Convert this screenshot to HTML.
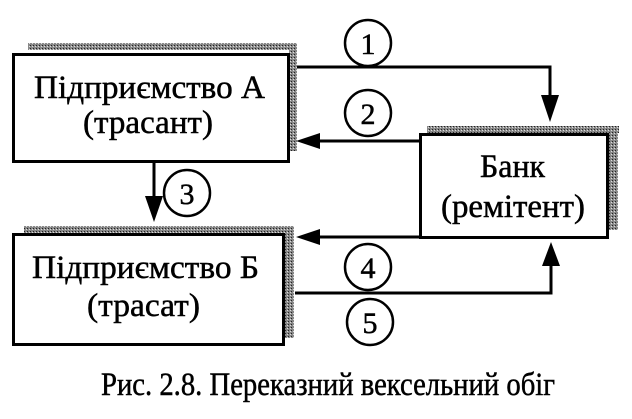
<!DOCTYPE html>
<html><head><meta charset="utf-8"><style>
body{margin:0;background:#fff;}
svg text{font-family:"Liberation Serif",serif;fill:#000;stroke:#000;stroke-width:0.5;}
</style></head><body>
<svg width="632" height="414" viewBox="0 0 632 414" xmlns="http://www.w3.org/2000/svg">
<defs><pattern id="p" width="3" height="3" patternUnits="userSpaceOnUse"><rect width="3" height="3" fill="#888"/><rect width="1" height="1" fill="#222"/><rect x="2" y="1" width="1" height="1" fill="#ddd"/></pattern></defs>
<rect x="28" y="43" width="268" height="7" fill="url(#p)"/>
<rect x="289" y="43" width="8" height="108" fill="url(#p)"/>
<rect x="427" y="126" width="192" height="7" fill="url(#p)"/>
<rect x="608" y="126" width="10" height="104" fill="url(#p)"/>
<rect x="24" y="226" width="270" height="7" fill="url(#p)"/>
<rect x="284" y="226" width="10" height="112" fill="url(#p)"/>
<rect x="13.5" y="54.5" width="275" height="107" fill="#fff" stroke="#000" stroke-width="3"/>
<rect x="420.5" y="134.5" width="187" height="103" fill="#fff" stroke="#000" stroke-width="3"/>
<rect x="13.5" y="234.5" width="270" height="110" fill="#fff" stroke="#000" stroke-width="3"/>
<g font-size="33">
<text x="34" y="98" textLength="231" lengthAdjust="spacingAndGlyphs">Підприємство А</text>
<text x="83" y="133" textLength="130" lengthAdjust="spacingAndGlyphs">(трасант)</text>
<text x="480" y="177" textLength="65" lengthAdjust="spacingAndGlyphs">Банк</text>
<text x="441" y="217" textLength="144" lengthAdjust="spacingAndGlyphs">(ремітент)</text>
<text x="32" y="278" textLength="227" lengthAdjust="spacingAndGlyphs">Підприємство Б</text>
<text x="87" y="316" textLength="113" lengthAdjust="spacingAndGlyphs">(трасат)</text>
<text x="101" y="395" textLength="454" lengthAdjust="spacingAndGlyphs">Рис. 2.8. Переказний вексельний обіг</text>
</g>
<g stroke="#000" stroke-width="3" fill="none">
<polyline points="297,67 550,67 550,100"/>
<line x1="420" y1="141" x2="310" y2="141"/>
<line x1="154" y1="162" x2="154" y2="200"/>
<line x1="420" y1="237" x2="310" y2="237"/>
<polyline points="295,293 551,293 551,262"/>
</g>
<g fill="#000">
<polygon points="541,95 559,95 550,122"/>
<polygon points="296,141 320,133 320,149"/>
<polygon points="145,196 163,196 154,222"/>
<polygon points="296,237 320,229 320,245"/>
<polygon points="542,266 560,266 551,242"/>
</g>
<g stroke="#000" stroke-width="2.5" fill="#fff">
<circle cx="368" cy="43" r="23"/>
<circle cx="368" cy="113" r="23"/>
<circle cx="187" cy="193" r="23"/>
<circle cx="368" cy="267" r="23"/>
<circle cx="370" cy="322" r="23"/>
</g>
<g font-size="30" text-anchor="middle">
<text x="368" y="54">1</text>
<text x="368" y="124">2</text>
<text x="187" y="204">3</text>
<text x="368" y="278">4</text>
<text x="370" y="333">5</text>
</g>
</svg>
</body></html>
